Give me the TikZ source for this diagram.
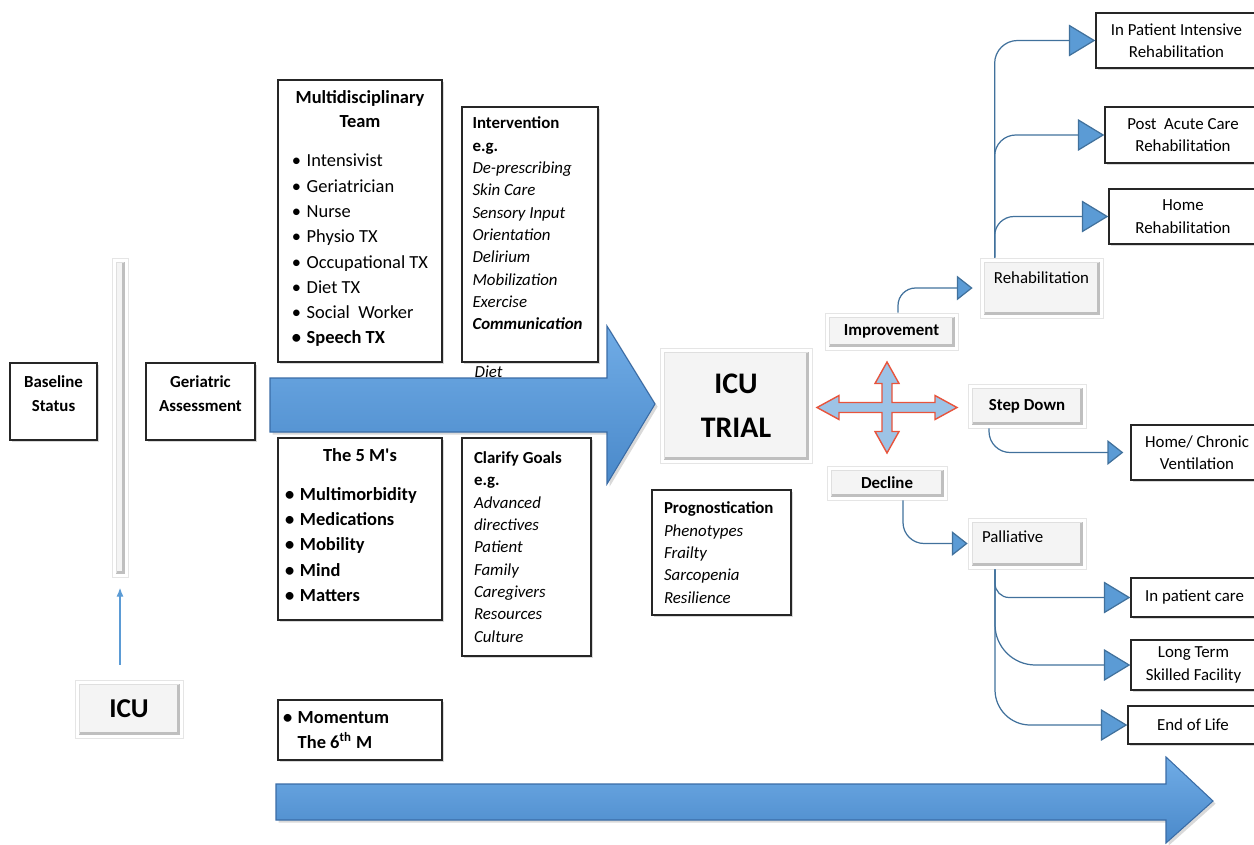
\documentclass[tikz,border=0pt]{standalone}
\usepackage{fontspec}
\setmainfont{Carlito}
\usetikzlibrary{arrows.meta, positioning, calc, shadows}

\definecolor{connblue}{RGB}{65,113,156}
\definecolor{tipblue}{RGB}{91,155,213}
\definecolor{arrowtop}{RGB}{112,172,230}
\definecolor{arrowbot}{RGB}{74,137,202}
\definecolor{arrowedge}{RGB}{58,108,166}
\definecolor{crossfill}{RGB}{157,195,230}
\definecolor{crossedge}{RGB}{232,84,60}

\newcommand\boxfont{\fontsize{9.6pt}{12.7pt}\selectfont}
\newcommand\listfont{\fontsize{10.5pt}{14.4pt}\selectfont}
\newcommand\bul{\textbullet\hspace{0.3em}}

\begin{document}
\begin{tikzpicture}[x=0.02cm, y=-0.02cm,
  textbox/.style={draw=black!85, line width=0.8pt, fill=white, font=\boxfont,
    drop shadow={opacity=0.3, shadow xshift=1pt, shadow yshift=-1.2pt}},
  bevel/.style={draw=gray!20, line width=0.4pt, fill=white, font=\boxfont,
    drop shadow={opacity=0.25, shadow xshift=0.6pt, shadow yshift=-0.8pt},
    path picture={
      \fill[gray!9] ([shift={(2.5pt,2.5pt)}]path picture bounding box.south west)
        rectangle ([shift={(-2.5pt,-2.5pt)}]path picture bounding box.north east);
      \draw[gray!50, line width=1.4pt] ([shift={(2.5pt,2.5pt)}]path picture bounding box.south west)
        -- ([shift={(-2.5pt,2.5pt)}]path picture bounding box.south east)
        -- ([shift={(-2.5pt,-2.5pt)}]path picture bounding box.north east);
      \draw[gray!25, line width=0.6pt] ([shift={(2.5pt,2.5pt)}]path picture bounding box.south west)
        -- ([shift={(2.5pt,-2.5pt)}]path picture bounding box.north west)
        -- ([shift={(-2.5pt,-2.5pt)}]path picture bounding box.north east);
    }},
  conn/.style={connblue, line width=0.7pt, rounded corners=#1},
  conn/.default=12pt,
  bigtip/.style={-{Triangle[length=15pt, width=18pt, fill=tipblue]}},
  smalltip/.style={-{Triangle[length=9pt, width=14pt, fill=tipblue]}},
  bigarrow/.style={draw=arrowedge, line width=0.6pt, top color=arrowtop, bottom color=arrowbot,
    drop shadow={opacity=0.3, shadow xshift=1.5pt, shadow yshift=-1.5pt}},
]
\useasboundingbox (0,0) rectangle (1254,845);

% the two broad arrows
\draw[bigarrow] (270,378) -- (607,378) -- (607,326) -- (655,404) -- (607,484)
  -- (607,432) -- (270,432) -- cycle;
\draw[bigarrow] (276,784) -- (1166,784) -- (1166,757) -- (1213,801) -- (1166,843)
  -- (1166,820) -- (276,820) -- cycle;

% left column
\node[textbox, font=\boxfont\bfseries, minimum width=1.74cm, minimum height=1.54cm, align=center] (base) at (53.5,401.5) {Baseline\\[1.5pt]Status\\[-3.7pt]\mbox{}};
\node[bevel, minimum width=0.32cm, minimum height=6.38cm, inner sep=0pt] (bar) at (120,417.5) {};
\node[textbox, font=\boxfont\bfseries, minimum width=2.18cm, minimum height=1.54cm, align=center] (geri) at (200.5,401.5) {Geriatric\\[1.5pt]Assessment\\[-3.7pt]\mbox{}};
\node[bevel, font=\fontsize{15.5pt}{18pt}\selectfont\bfseries, minimum width=2.16cm, minimum height=1.16cm] (icu) at (129,709) {ICU};

\draw[-{Latex[length=5pt,width=4pt]}, tipblue, line width=0.6pt, shorten <=8.5pt, shorten >=6pt] (bar.south |- icu.north) -- (bar.south);

% team and goals
\node[textbox, font=\listfont, minimum width=3.28cm, minimum height=5.64cm, align=center] (mdt) at (360,221)
  {\textbf{Multidisciplinary}\\[-0.7pt]\textbf{Team}\\[8pt]
   \begin{tabular}[t]{@{}l@{}}
   \bul Intensivist\\ \bul Geriatrician\\ \bul Nurse\\ \bul Physio TX\\
   \bul Occupational TX\\ \bul Diet TX\\ \bul Social\ \ Worker\\ \textbf{\bul Speech TX}
   \end{tabular}};
\node[textbox, minimum width=2.72cm, minimum height=5.10cm, text width=2.3cm, inner xsep=0.21cm, align=flush left] (intv) at (530,234.5)
  {\textbf{Intervention}\\ \textbf{e.g.}\\ \textit{De-prescribing}\\ \textit{Skin Care}\\
   \textit{Sensory Input}\\ \textit{Orientation}\\ \textit{Delirium}\\ \textit{Mobilization}\\
   \textit{Exercise}\\ \textbf{\textit{Communication}}\\ \mbox{}};
\node[font=\boxfont\itshape, anchor=north west, inner sep=0pt] (diet) at ([shift={(13,3)}]intv.south west) {Diet};

\node[textbox, font=\listfont\bfseries, minimum width=3.28cm, minimum height=3.64cm, align=center] (fivem) at (360,529)
  {The 5 M\textquotesingle s\\[7.5pt]
   \begin{tabular}[t]{@{}l@{}}
   \bul Multimorbidity\\ \bul Medications\\ \bul Mobility\\ \bul Mind\\ \bul Matters
   \end{tabular}\hspace*{0.36cm}};
\node[textbox, minimum width=2.58cm, minimum height=4.36cm, text width=2.1cm, inner xsep=0.24cm, align=flush left] (goals) at (526.5,547)
  {\textbf{Clarify Goals}\\ \textbf{e.g.}\\ \textit{Advanced}\\ \textit{directives}\\ \textit{Patient}\\
   \textit{Family}\\ \textit{Caregivers}\\ \textit{Resources}\\ \textit{Culture}};
\node[textbox, font=\listfont\bfseries, minimum width=3.28cm, minimum height=1.2cm, text width=3.08cm, inner xsep=0.1cm, align=flush left] (mom) at (360,730)
  {\bul Momentum\\ \phantom{\bul}The 6\textsuperscript{th} M};

% trial and outcomes
\node[bevel, font=\fontsize{17pt}{25pt}\selectfont\bfseries, minimum width=3.04cm, minimum height=2.3cm, align=center] (trial) at (736,405.5) {ICU\\TRIAL};
\node[textbox, minimum width=2.78cm, minimum height=2.5cm, text width=2.3cm, inner xsep=0.24cm, align=flush left] (prog) at (721.5,552.5)
  {\textbf{Prognostication}\\ \textit{Phenotypes}\\ \textit{Frailty}\\ \textit{Sarcopenia}\\ \textit{Resilience}};

\coordinate (cross) at (887,407.5);
\draw[crossedge, fill=crossfill, line width=0.8pt, shift={(cross)}]
  (70,0) -- (48,-12) -- (48,-5) -- (5,-5) -- (5,-24) -- (12,-24) -- (0,-45.5) -- (-12,-24)
  -- (-5,-24) -- (-5,-5) -- (-48,-5) -- (-48,-12) -- (-70,0) -- (-48,12) -- (-48,5) -- (-5,5)
  -- (-5,24) -- (-12,24) -- (0,45.5) -- (12,24) -- (5,24) -- (5,5) -- (48,5) -- (48,12) -- cycle;

\node[bevel, font=\boxfont\bfseries, minimum width=2.66cm, minimum height=0.74cm] (impr) at (891.5,331.5) {Improvement};
\node[bevel, minimum width=2.46cm, minimum height=1.2cm, align=center] (rehab) at (1041.5,288) {Rehabilitation\\[-1.3pt]\mbox{}};
\node[bevel, font=\boxfont\bfseries, minimum width=2.36cm, minimum height=0.88cm] (stepdn) at (1027,406) {Step Down};
\node[bevel, font=\boxfont\bfseries, minimum width=2.4cm, minimum height=0.68cm] (decline) at (887,483) {Decline};
\node[bevel, minimum width=2.36cm, minimum height=1.02cm, text width=1.8cm, align=flush left] (pall) at (1027,543.5) {Palliative\\[-5.3pt]\mbox{}};

\node[textbox, minimum width=3.22cm, minimum height=1.1cm, align=center] (ipir) at (1176.5,40.5) {In Patient Intensive\\Rehabilitation};
\node[textbox, minimum width=3.12cm, minimum height=1.12cm, align=center] (pacr) at (1183,135) {Post\ \ Acute Care\\Rehabilitation};
\node[textbox, minimum width=2.96cm, minimum height=1.1cm, align=center] (homer) at (1183,216.5) {Home\\Rehabilitation};
\node[textbox, minimum width=2.64cm, minimum height=1.1cm, align=center] (homevent) at (1197,452.5) {Home/ Chronic\\Ventilation};
\node[textbox, minimum width=2.54cm, minimum height=0.78cm] (ipc) at (1194.5,597.5) {In patient care};
\node[textbox, minimum width=2.5cm, minimum height=1.0cm, align=center] (ltsf) at (1193.5,665) {Long Term\\Skilled Facility};
\node[textbox, minimum width=2.6cm, minimum height=0.76cm] (eol) at (1193,725) {End of Life};

% connectors
\draw[conn=13pt, bigtip] ([xshift=0.3cm]rehab.north west) |- (ipir.west);
\draw[conn=12pt, bigtip] ([xshift=0.3cm]rehab.north west) |- (pacr.west);
\draw[conn=11pt, bigtip] ([xshift=0.3cm]rehab.north west) |- (homer.west);
\draw[conn=10pt, smalltip, shorten >=4pt] ([xshift=0.13cm]impr.north) |- (rehab.west);
\draw[conn=12pt, smalltip, shorten >=4pt] ([xshift=-0.76cm]stepdn.south) |- (homevent.west);
\draw[conn=12pt, smalltip] ([xshift=0.32cm]decline.south) |- (pall.west);
\draw[conn=8pt, bigtip] ([xshift=-0.64cm]pall.south) |- (ipc.west);
\draw[conn=23pt, bigtip] ([xshift=-0.64cm]pall.south) |- (ltsf.west);
\draw[conn=20pt, bigtip] ([xshift=-0.64cm]pall.south) |- (eol.west);
\end{tikzpicture}
\end{document}
